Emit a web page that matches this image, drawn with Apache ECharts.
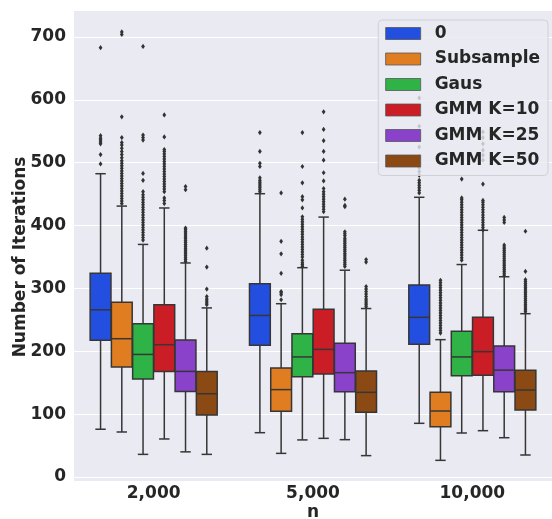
<!DOCTYPE html>
<html>
<head>
<meta charset="utf-8">
<script src="https://cdn.jsdelivr.net/npm/echarts@6/dist/echarts.min.js"></script>
<style>html,body{margin:0;padding:0;background:#fff;}#c{width:552px;height:519px;}</style>
</head>
<body>
<div id="c"></div>
<script>
const categories = ['2,000', '5,000', '10,000'];
const hues = ['0', 'Subsample', 'Gaus', 'GMM K=10', 'GMM K=25', 'GMM K=50'];
const hueColors = ['#224FDF', '#DF7D20', '#30B346', '#CB1D25', '#8A42CB', '#8B4A14'];
const yTicks = [0, 100, 200, 300, 400, 500, 600, 700];

// [whiskerLow, q1, median, q3, whiskerHigh] per category
const stats_0 = [[76, 217.5, 266, 324, 482.5], [70.5, 209.5, 257, 307.5, 450.7], [85.4, 211, 254, 305.5, 445]];
const stats_subsample = [[71.6, 175, 220, 278, 431], [37.6, 104.5, 139, 173.4, 275.7], [26.5, 80, 105, 134.7, 218.5]];
const stats_gaus = [[36, 156, 195, 244, 370], [59, 159.6, 191, 228, 333], [70, 161, 191, 231.7, 338]];
const stats_k10 = [[60.5, 168, 210.5, 274, 428], [61.5, 164, 203, 267, 413.5], [73.7, 162, 199.4, 254, 392.5]];
const stats_k25 = [[40, 136, 168, 218, 340.5], [59.4, 135.7, 166, 212.7, 329], [62.5, 135.7, 170, 208.4, 318.6]];
const stats_k50 = [[36, 98.6, 132.5, 168, 269], [34, 103, 134.7, 168.6, 268], [35, 106.6, 138.4, 169.7, 259.8]];

// outliers per category
const out_0 = [
  [498, 513, 530, 533, 536, 539, 543, 683],
  [454, 457, 460, 463, 466, 469, 472, 476, 494, 499, 518, 548],
  [452, 456, 460, 464, 468, 472, 480, 486, 492, 500, 510, 525, 558, 603]
];
const out_subsample = [
  [435, 439, 443, 447, 451, 455, 459, 463, 467, 471, 475, 479, 483, 487, 491, 495, 499, 503, 508, 513, 518, 523, 528, 532, 540, 573, 704, 708],
  [282, 290, 293, 295, 324, 355, 375, 452],
  [229, 233, 237, 241, 245, 249, 253, 257, 261, 265, 269, 273, 277, 281, 285, 289, 293, 297, 301, 305, 309, 313]
];
const out_gaus = [
  [377, 381, 385, 389, 393, 397, 401, 405, 409, 413, 417, 421, 425, 429, 433, 437, 441, 445, 449, 454, 472, 483, 536, 540, 544, 685],
  [335, 338, 341, 345, 350, 354, 358, 362, 366, 370, 374, 378, 382, 386, 390, 394, 398, 402, 406, 410, 414, 428, 441, 446, 468, 494, 548],
  [345, 349, 353, 357, 361, 365, 369, 373, 377, 381, 385, 389, 393, 397, 401, 405, 409, 413, 417, 421, 425, 429, 433, 437, 441, 444, 474]
];
const out_k10 = [
  [435, 440, 444, 454, 458, 462, 466, 470, 474, 478, 482, 486, 490, 494, 498, 502, 506, 510, 514, 518, 521, 541, 576],
  [422, 426, 430, 434, 438, 442, 446, 450, 454, 459, 471, 484, 504, 518, 535, 553, 581],
  [393, 397, 401, 405, 409, 413, 417, 421, 425, 429, 433, 437, 440, 466, 504, 512, 520, 530, 540, 549]
];
const out_k25 = [
  [343, 346, 349, 352, 355, 358, 361, 364, 367, 370, 373, 376, 379, 382, 385, 388, 391, 394, 396, 457, 462],
  [335, 338, 341, 344, 347, 350, 353, 356, 359, 362, 365, 368, 371, 374, 377, 380, 384, 387, 390, 430, 432, 442],
  [321, 324, 327, 330, 333, 336, 339, 342, 345, 348, 351, 354, 357, 360, 363, 366, 369, 405, 409, 413]
];
const out_k50 = [
  [274, 277, 280, 283, 287, 299, 334, 364],
  [271, 274, 277, 280, 283, 287, 291, 295, 299, 303, 342, 346],
  [263, 266, 269, 272, 275, 278, 281, 284, 287, 290, 293, 296, 299, 302, 305, 308, 311, 314, 327, 391]
];

const allStats = [stats_0, stats_subsample, stats_gaus, stats_k10, stats_k25, stats_k50];
const allOut = [out_0, out_subsample, out_gaus, out_k10, out_k25, out_k50];

const LINE = '#363636';
const FONT = 'DejaVu Sans';

function boxRender(h) {
  return function (params, api) {
    const ci = api.value(0);
    const band = api.size([1, 0])[0];
    const slot = band * 0.8 / hues.length;
    const bw = slot * 0.98;
    const cx = api.coord([ci, 0])[0] + (h - (hues.length - 1) / 2) * slot;
    const yl = api.coord([ci, api.value(1)])[1];
    const y1 = api.coord([ci, api.value(2)])[1];
    const ym = api.coord([ci, api.value(3)])[1];
    const y3 = api.coord([ci, api.value(4)])[1];
    const yh = api.coord([ci, api.value(5)])[1];
    const ls = { stroke: LINE, lineWidth: 1.5 };
    const cap = bw / 4;
    return {
      type: 'group',
      children: [
        { type: 'line', shape: { x1: cx, y1: y3, x2: cx, y2: yh }, style: ls },
        { type: 'line', shape: { x1: cx, y1: y1, x2: cx, y2: yl }, style: ls },
        { type: 'line', shape: { x1: cx - cap, y1: yh, x2: cx + cap, y2: yh }, style: ls },
        { type: 'line', shape: { x1: cx - cap, y1: yl, x2: cx + cap, y2: yl }, style: ls },
        { type: 'rect', shape: { x: cx - bw / 2, y: y3, width: bw, height: y1 - y3 },
          style: { fill: hueColors[h], stroke: LINE, lineWidth: 1.5 } },
        { type: 'line', shape: { x1: cx - bw / 2, y1: ym, x2: cx + bw / 2, y2: ym }, style: ls }
      ]
    };
  };
}

function outRender(h) {
  return function (params, api) {
    const ci = api.value(0);
    const band = api.size([1, 0])[0];
    const slot = band * 0.8 / hues.length;
    const cx = api.coord([ci, 0])[0] + (h - (hues.length - 1) / 2) * slot;
    const y = api.coord([ci, api.value(1)])[1];
    return {
      type: 'polygon',
      shape: { points: [[cx, y - 2.6], [cx + 1.9, y], [cx, y + 2.6], [cx - 1.9, y]] },
      style: { fill: '#333333' }
    };
  };
}

const series = [];
hues.forEach(function (name, h) {
  series.push({
    type: 'custom',
    name: name,
    renderItem: boxRender(h),
    itemStyle: { color: hueColors[h], borderColor: '#555', borderWidth: 0.8 },
    encode: { x: 0, y: [1, 2, 3, 4, 5] },
    data: allStats[h].map(function (s, ci) { return [ci].concat(s); }),
    z: 2
  });
});
hues.forEach(function (name, h) {
  const d = [];
  allOut[h].forEach(function (arr, ci) { arr.forEach(function (v) { d.push([ci, v]); }); });
  series.push({
    type: 'custom',
    name: 'outliers ' + name,
    renderItem: outRender(h),
    encode: { x: 0, y: 1 },
    data: d,
    clip: false,
    z: 2
  });
});

const chart = echarts.init(document.getElementById('c'), null, { renderer: 'canvas' });
chart.setOption({
  animation: false,
  backgroundColor: '#ffffff',
  graphic: [{
    type: 'rect', z: -10, silent: true,
    shape: { x: 74, y: 11, width: 478, height: 470 },
    style: { fill: '#EAEAF2' }
  }],
  grid: { left: 74, right: 0, top: 37, bottom: 42, containLabel: false, outerBoundsMode: 'none' },
  xAxis: {
    type: 'category',
    data: categories,
    name: 'n',
    nameLocation: 'middle',
    nameGap: 27,
    nameMoveOverlap: false,
    nameTextStyle: { fontFamily: FONT, fontWeight: 'bold', fontSize: 17, color: '#262626' },
    axisLine: { show: false },
    axisTick: { show: false },
    splitLine: { show: false },
    axisLabel: { fontFamily: FONT, fontWeight: 'bold', fontSize: 17, color: '#262626', margin: 8 }
  },
  yAxis: {
    type: 'value',
    min: yTicks[0],
    max: yTicks[yTicks.length - 1],
    interval: 100,
    name: 'Number of Iterations',
    nameLocation: 'middle',
    nameGap: 45,
    nameMoveOverlap: false,
    nameTextStyle: { fontFamily: FONT, fontWeight: 'bold', fontSize: 17, color: '#262626' },
    axisLine: { show: false },
    axisTick: { show: false },
    splitLine: { show: true, lineStyle: { color: '#ffffff', width: 1 } },
    axisLabel: { fontFamily: FONT, fontWeight: 'bold', fontSize: 17, color: '#262626', margin: 8 }
  },
  legend: {
    data: hues,
    orient: 'vertical',
    right: 4,
    top: 20,
    zlevel: 1,
    z: 20,
    itemWidth: 35,
    itemHeight: 12,
    itemGap: 8.5,
    icon: 'rect',
    backgroundColor: 'rgba(234,234,242,0.8)',
    borderColor: '#d0d0d6',
    borderWidth: 1,
    borderRadius: 4,
    padding: [5, 8, 6, 7],
    itemStyle: { borderColor: '#555', borderWidth: 0.8 },
    textStyle: { fontFamily: FONT, fontWeight: 'bold', fontSize: 17, color: '#262626', lineHeight: 17, padding: [0, 0, 0, 9] }
  },
  series: series
});
</script>
</body>
</html>
